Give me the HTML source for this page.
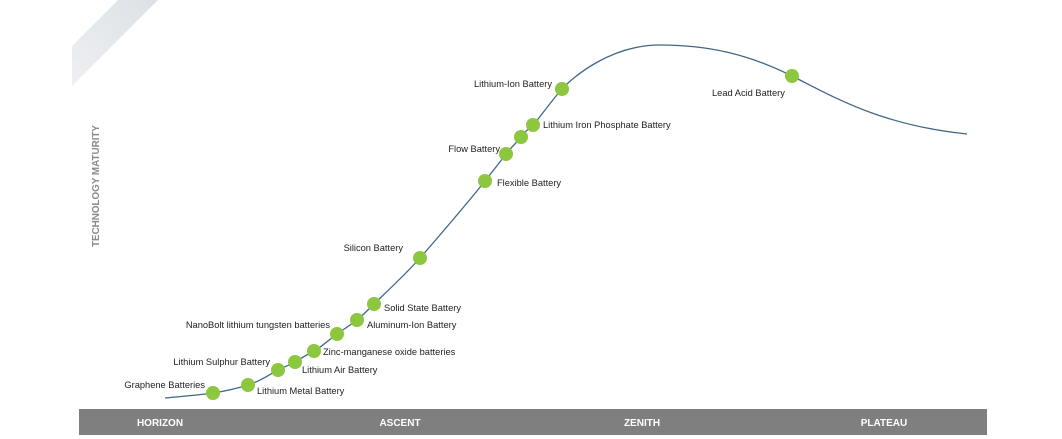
<!DOCTYPE html>
<html><head><style>
body{margin:0;background:#fff;}
svg{display:block;}
text{font-family:"Liberation Sans",sans-serif;}
</style></head><body>
<svg width="1062" height="439" viewBox="0 0 1062 439" xmlns="http://www.w3.org/2000/svg">
<defs><linearGradient id="g" x1="0" y1="1" x2="1" y2="0"><stop offset="0" stop-color="#eef0f2"/><stop offset="1" stop-color="#dde1e5"/></linearGradient></defs>
<polygon points="118,0 158,0 72,86 72,46" fill="url(#g)"/>
<text transform="translate(99,247) rotate(-90)" font-size="10.5" font-weight="bold" fill="#8a8a8a" textLength="122" lengthAdjust="spacingAndGlyphs">TECHNOLOGY MATURITY</text>
<rect x="79" y="409" width="908" height="26" fill="#7f7f7f"/>
<g font-size="10" font-weight="bold" fill="#fff" text-anchor="middle">
<text x="160" y="426">HORIZON</text><text x="400" y="426">ASCENT</text><text x="642" y="426">ZENITH</text><text x="884" y="426">PLATEAU</text></g>
<path d="M165,398 C185,396 200,395 213,393 S235,389 248,385 S270,374 278,370 S290,365 295,362 S308,354 314,351 S330,339 337,334 S352,324 357,320 S368,310 374,304 S405,275 420,258 S470,200 485,181 S500,162 506,154 S515,145 521,137 S528,130 533,125 S552,100 562,89 S610,45 660,45 S750,55 792,76 S880,125 967,134" fill="none" stroke="#3f6789" stroke-width="1.3"/>
<g fill="#8dc63f">
<circle cx="213" cy="393" r="7"/><circle cx="248" cy="385" r="7"/><circle cx="278" cy="370" r="7"/><circle cx="295" cy="362" r="7"/><circle cx="314" cy="351" r="7"/><circle cx="337" cy="334" r="7"/><circle cx="357" cy="320" r="7"/><circle cx="374" cy="304" r="7"/><circle cx="420" cy="258" r="7"/><circle cx="485" cy="181" r="7"/><circle cx="506" cy="154" r="7"/><circle cx="521" cy="137" r="7"/><circle cx="533" cy="125" r="7"/><circle cx="562" cy="89" r="7"/><circle cx="792" cy="76" r="7"/>
</g>
<g font-size="9.3" fill="#222">
<text x="205" y="388" text-anchor="end">Graphene Batteries</text>
<text x="257" y="394">Lithium Metal Battery</text>
<text x="270" y="365" text-anchor="end">Lithium Sulphur Battery</text>
<text x="302" y="373">Lithium Air Battery</text>
<text x="323" y="355">Zinc-manganese oxide batteries</text>
<text x="330" y="328" text-anchor="end">NanoBolt lithium tungsten batteries</text>
<text x="367" y="328">Aluminum-Ion Battery</text>
<text x="384" y="311">Solid State Battery</text>
<text x="403" y="251" text-anchor="end">Silicon Battery</text>
<text x="497" y="186">Flexible Battery</text>
<text x="500" y="152" text-anchor="end">Flow Battery</text>
<text x="543" y="128">Lithium Iron Phosphate Battery</text>
<text x="552" y="87" text-anchor="end">Lithium-Ion Battery</text>
<text x="712" y="96">Lead Acid Battery</text>
</g>
</svg>
</body></html>
